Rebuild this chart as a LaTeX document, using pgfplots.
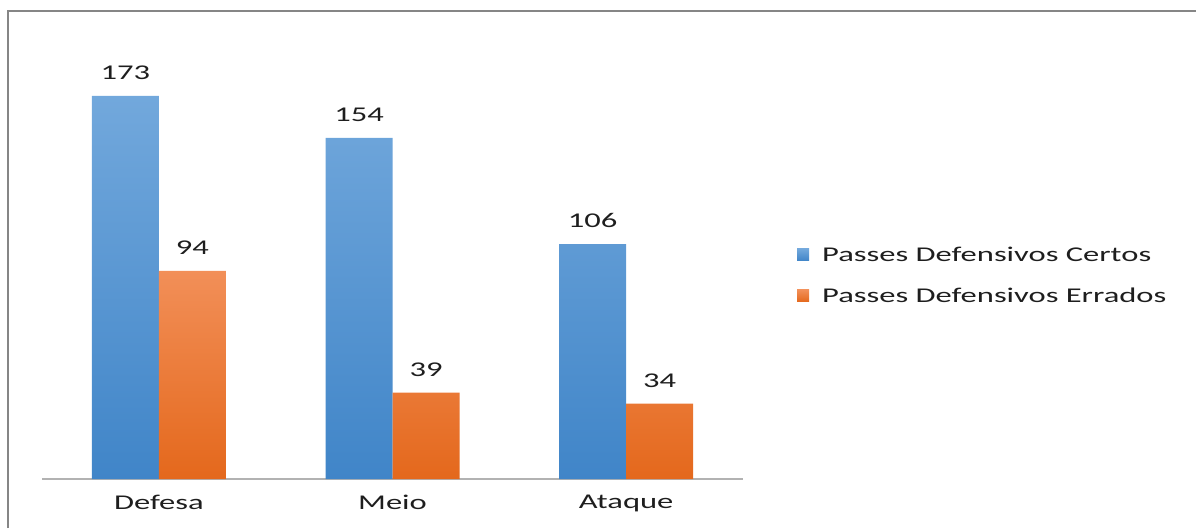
\documentclass[border=0pt]{standalone}
\usepackage{pgfplots}
\pgfplotsset{compat=1.18}
\usepackage{fontspec}
\setmainfont{Carlito}[FakeStretch=1.55]
\definecolor{bluetop}{RGB}{114,168,220}
\definecolor{bluebot}{RGB}{64,133,200}
\definecolor{orgtop}{RGB}{242,143,88}
\definecolor{orgbot}{RGB}{228,104,28}
\definecolor{framec}{RGB}{134,134,134}
\definecolor{txt}{RGB}{30,30,30}
\begin{document}
\begin{tikzpicture}[x=1pt,y=1pt]
\useasboundingbox (0,0) rectangle (1196,528);
\draw[framec, line width=1.5pt] (8,0) -- (8,517) -- (1196,517);
\begin{axis}[
  at={(42pt,49pt)}, anchor=south west,
  scale only axis, width=701pt, height=443pt,
  ybar=0pt, bar width=67pt,
  xmin=-0.5, xmax=2.5, ymin=0, ymax=200,
  axis y line=none,
  axis x line*=bottom,
  x axis line style={draw=black!30, line width=1.2pt, -},
  xtick=data, xticklabels={Defesa,Meio,Ataque},
  major tick length=0pt, ytick=\empty,
  /pgf/number format/assume math mode=true,
  xticklabel style={font=\fontsize{21}{25}\selectfont, text=txt, inner sep=0pt, yshift=-16pt},
  nodes near coords,
  every node near coord/.append style={font=\fontsize{21}{25}\selectfont, text=txt, inner sep=0pt, yshift=16pt},
  legend style={at={(1.077,0.529)}, anchor=north west, draw=none, fill=none, inner sep=0pt,
    font=\fontsize{21}{25}\selectfont, text=txt, row sep=21pt,
    /tikz/every odd column/.append style={column sep=11pt}},
  legend cell align=left,
  legend image code/.code={\fill[#1] (0pt,-6pt) rectangle (12pt,6pt);},
]
\addplot[draw=none, top color=bluetop, bottom color=bluebot,
  legend image code/.code={\fill[bluetop!70!bluebot] (0pt,-6pt) rectangle (12pt,6pt);}]
  coordinates {(0,173) (1,154) (2,106)};
\addplot[draw=none, top color=orgtop, bottom color=orgbot,
  legend image code/.code={\fill[orgtop!60!orgbot] (0pt,-6pt) rectangle (12pt,6pt);}]
  coordinates {(0,94) (1,39) (2,34)};
\legend{Passes Defensivos Certos, Passes Defensivos Errados}
\end{axis}
\end{tikzpicture}
\end{document}
